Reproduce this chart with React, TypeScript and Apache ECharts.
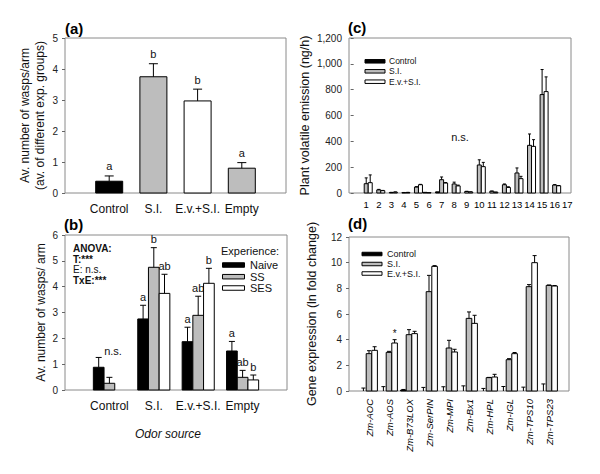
import React, { useEffect, useRef } from 'react';
import * as echarts from 'echarts';

const FONT = "'Liberation Sans', Arial, Helvetica, sans-serif";

// ---------- Panel (a) ----------
const odorSources = ['Control', 'S.I.', 'E.v.+S.I.', 'Empty'];
const aMeans = [0.38, 3.75, 2.97, 0.8];
const aSE = [0.17, 0.42, 0.38, 0.18];
const aLetters = ['a', 'b', 'b', 'a'];
const aColors = ['#000000', '#bdbdbd', '#ffffff', '#bdbdbd'];

// ---------- Panel (b) ----------
const experienceGroups = ['Naive', 'SS', 'SES'];
const bNaive = [0.88, 2.75, 1.87, 1.51];
const bNaiveSE = [0.38, 0.53, 0.56, 0.37];
const bSS = [0.26, 4.75, 2.89, 0.49];
const bSSSE = [0.23, 0.76, 0.74, 0.27];
const bSES = [0, 3.74, 4.13, 0.39];
const bSESSE = [0, 0.74, 0.58, 0.19];
const bNaiveLetters = ['', 'a', 'a', 'a'];
const bSSLetters = ['', 'b', 'ab', 'ab'];
const bSESLetters = ['', 'ab', 'b', 'b'];
const bControlNote = 'n.s.';
const anovaLines = ['ANOVA:', 'T:***', 'E: n.s.', 'TxE:***'];

// ---------- Panel (c) ----------
const compounds = ['1', '2', '3', '4', '5', '6', '7', '8', '9', '10', '11', '12', '13', '14', '15', '16', '17'];
const treatments = ['Control', 'S.I.', 'E.v.+S.I.'];
const cControl = [0, 0, 0, 0, 0, 5, 9, 0, 0, 0, 0, 0, 0, 0, 0, 0, 0];
const cControlSE = [0, 0, 0, 0, 0, 0, 0, 0, 0, 0, 0, 0, 0, 0, 0, 0, 0];
const cSI = [72, 24, 4, 3, 46, 3, 103, 70, 12, 217, 14, 64, 155, 369, 762, 62, 0];
const cSISE = [45, 4, 1, 1, 3, 0, 21, 14, 1, 40, 1, 6, 39, 88, 194, 3, 0];
const cEvSI = [80, 18, 7, 4, 64, 0, 77, 55, 8, 204, 6, 43, 111, 361, 785, 56, 0];
const cEvSISE = [60, 2, 1, 1, 3, 0, 4, 6, 1, 33, 1, 5, 18, 52, 114, 2, 0];
const cNote = 'n.s.';

// ---------- Panel (d) ----------
const genes = ['Zm-AOC', 'Zm-AOS', 'Zm-B73LOX', 'Zm-SerPIN', 'Zm-MPI', 'Zm-Bx1', 'Zm-HPL', 'Zm-IGL', 'Zm-TPS10', 'Zm-TPS23'];
const dControl = [0, 0, 0.07, 0, 0, 0, 0, 0, 0, 0];
const dControlSE = [0.23, 0.34, 0.05, 0.28, 0.33, 0.4, 0.2, 0.35, 0.3, 0.55];
const dSI = [2.91, 3.01, 4.39, 7.74, 3.35, 5.66, 1.04, 2.44, 8.13, 8.23];
const dSISE = [0.23, 0.08, 0.39, 1.27, 0.6, 0.5, 0.02, 0.08, 0.16, 0.03];
const dEvSI = [3.17, 3.74, 4.47, 9.71, 3.04, 5.27, 1.09, 2.91, 10.0, 8.18];
const dEvSISE = [0.28, 0.26, 0.18, 0.06, 0.21, 0.63, 0.21, 0.09, 0.55, 0.04];
const dEvSILetters = ['', '*', '', '', '', '', '', '', '', ''];

const BLACK = '#000000';
const GRAY = '#bdbdbd';
const WHITE = '#ffffff';

type BarOpts = {
  name: string;
  grid: number;
  means: number[];
  se: number[];
  colors: string | string[];
  offset: number;
  barWidth: number;
  capWidth: number;
  letters?: string[];
  fontSize?: number;
  labelGap?: number;
};

function barSeries(o: BarOpts) {
  return {
    type: 'custom',
    name: o.name,
    coordinateSystem: 'cartesian2d',
    xAxisIndex: o.grid,
    yAxisIndex: o.grid,
    encode: { x: 0, y: 1 },
    silent: true,
    data: o.means.map((m, i) => [i + 1, m, m + o.se[i]]),
    renderItem: (params: any, api: any) => {
      const i = params.dataIndex;
      const x = api.value(0);
      const v = api.value(1);
      const top = api.value(2);
      const p0 = api.coord([x, 0]);
      const p1 = api.coord([x, v]);
      const pe = api.coord([x, top]);
      const cx = p0[0] + o.offset * o.barWidth;
      const fill = Array.isArray(o.colors) ? o.colors[i] : o.colors;
      const children: any[] = [];
      if (v > 0) {
        children.push({
          type: 'rect',
          shape: { x: cx - o.barWidth / 2, y: p1[1], width: o.barWidth, height: p0[1] - p1[1] },
          style: { fill, stroke: '#000', lineWidth: 1 },
        });
      }
      if (top > v) {
        children.push({
          type: 'line',
          shape: { x1: cx, y1: p1[1], x2: cx, y2: pe[1] },
          style: { stroke: '#000', lineWidth: 1 },
        });
        children.push({
          type: 'line',
          shape: { x1: cx - o.capWidth / 2, y1: pe[1], x2: cx + o.capWidth / 2, y2: pe[1] },
          style: { stroke: '#000', lineWidth: 1 },
        });
      }
      const letter = o.letters ? o.letters[i] : '';
      if (letter) {
        children.push({
          type: 'text',
          x: cx,
          y: pe[1] - (o.labelGap ?? 3),
          style: {
            text: letter,
            fill: '#111',
            font: `${o.fontSize ?? 11}px ${FONT}`,
            align: 'center',
            verticalAlign: 'bottom',
          },
        });
      }
      return { type: 'group', children };
    },
  };
}

const gridBase = { show: true, borderColor: '#8a8a8a', borderWidth: 1, backgroundColor: 'transparent', containLabel: false };

function yAxis(grid: number, max: number, interval: number, name: string, nameGap: number, nameSize: number) {
  return {
    gridIndex: grid,
    type: 'value',
    min: 0,
    max,
    interval,
    name,
    nameLocation: 'middle',
    nameGap,
    nameTextStyle: { fontSize: nameSize, color: '#111', fontFamily: FONT, lineHeight: nameSize + 3 },
    axisLine: { show: false },
    axisTick: { show: true, inside: false, length: 3, lineStyle: { color: '#666' } },
    splitLine: { show: false },
    axisLabel: { fontSize: 10, color: '#222', fontFamily: FONT, margin: 7 },
  };
}

function xAxisVal(grid: number, min: number, max: number, values: number[], names: string[], extra: any) {
  return {
    gridIndex: grid,
    type: 'value',
    min,
    max,
    axisLine: { show: false },
    axisTick: { show: false },
    splitLine: { show: false },
    axisLabel: {
      customValues: values,
      formatter: (v: number) => names[Math.round(v) - 1] ?? '',
      fontFamily: FONT,
      color: '#111',
      ...extra,
    },
  };
}

function legendGraphics(x: number, textX: number, ys: number[], labels: string[], fills: string[], w: number, h: number, fontSize: number) {
  const els: any[] = [];
  ys.forEach((y, i) => {
    els.push({
      type: 'rect',
      shape: { x, y: y - h / 2, width: w, height: h },
      style: { fill: fills[i], stroke: '#000', lineWidth: 1 },
    });
    els.push({
      type: 'text',
      x: textX,
      y,
      style: { text: labels[i], font: `${fontSize}px ${FONT}`, fill: '#111', verticalAlign: 'middle', align: 'left' },
    });
  });
  return els;
}

export default function App() {
  const ref = useRef<HTMLDivElement>(null);
  useEffect(() => {
    if (!ref.current) return;
    const chart = echarts.init(ref.current, undefined, { renderer: 'svg' });
    const panelLabel = (t: string, x: number, y: number) => ({
      type: 'text',
      x,
      y,
      style: { text: t, font: `bold 15px ${FONT}`, fill: '#000', verticalAlign: 'middle' },
    });
    const option: any = {
      animation: false,
      backgroundColor: '#ffffff',
      textStyle: { fontFamily: FONT },
      grid: [
        { ...gridBase, left: 65, top: 38, width: 221, height: 155 },
        { ...gridBase, left: 65, top: 235, width: 222, height: 155 },
        { ...gridBase, left: 349, top: 38, width: 222, height: 155 },
        { ...gridBase, left: 349, top: 237, width: 220, height: 154 },
      ],
      xAxis: [
        xAxisVal(0, 0, 5, [1, 2, 3, 4], odorSources, { fontSize: 12, margin: 10 }),
        xAxisVal(1, 0, 5, [1, 2, 3, 4], odorSources, { fontSize: 12, margin: 10 }),
        xAxisVal(2, -0.37, 17.3, compounds.map((_, i) => i + 1), compounds, { fontSize: 9.5, margin: 6, color: '#000' }),
        xAxisVal(3, 0, 11, genes.map((_, i) => i + 1), genes, { fontSize: 9.5, margin: 8, rotate: 90, fontStyle: 'italic', color: '#000' }),
      ],
      yAxis: [
        yAxis(0, 5, 1, 'Av. number of wasps/arm\n(av. of different exp. groups)', 18, 12),
        yAxis(1, 6, 1, 'Av. number of wasps/ arm', 15, 12),
        yAxis(2, 1200, 200, 'Plant volatile emission (ng/h)', 31, 12.5),
        yAxis(3, 12, 2, 'Gene expression (ln fold change)', 29, 12.5),
      ],
      series: [
        barSeries({ name: 'a', grid: 0, means: aMeans, se: aSE, colors: aColors, offset: 0, barWidth: 27, capWidth: 9, letters: aLetters, fontSize: 11, labelGap: 4 }),
        barSeries({ name: experienceGroups[0], grid: 1, means: bNaive, se: bNaiveSE, colors: BLACK, offset: -1, barWidth: 10.7, capWidth: 6, letters: bNaiveLetters, fontSize: 11, labelGap: 3 }),
        barSeries({ name: experienceGroups[1], grid: 1, means: bSS, se: bSSSE, colors: GRAY, offset: 0, barWidth: 10.7, capWidth: 6, letters: bSSLetters, fontSize: 11, labelGap: 3 }),
        barSeries({ name: experienceGroups[2], grid: 1, means: bSES, se: bSESSE, colors: WHITE, offset: 1, barWidth: 10.7, capWidth: 6, letters: bSESLetters, fontSize: 11, labelGap: 3 }),
        barSeries({ name: treatments[0], grid: 2, means: cControl, se: cControlSE, colors: BLACK, offset: -1, barWidth: 4, capWidth: 3 }),
        barSeries({ name: treatments[1], grid: 2, means: cSI, se: cSISE, colors: GRAY, offset: 0, barWidth: 4, capWidth: 3 }),
        barSeries({ name: treatments[2], grid: 2, means: cEvSI, se: cEvSISE, colors: WHITE, offset: 1, barWidth: 4, capWidth: 3 }),
        barSeries({ name: treatments[0], grid: 3, means: dControl, se: dControlSE, colors: BLACK, offset: -1, barWidth: 5.6, capWidth: 4 }),
        barSeries({ name: treatments[1], grid: 3, means: dSI, se: dSISE, colors: GRAY, offset: 0, barWidth: 5.6, capWidth: 4 }),
        barSeries({ name: treatments[2], grid: 3, means: dEvSI, se: dEvSISE, colors: WHITE, offset: 1, barWidth: 5.6, capWidth: 4, letters: dEvSILetters, fontSize: 10, labelGap: 1 }),
      ],
      graphic: [
        panelLabel('(a)', 65, 28),
        panelLabel('(b)', 64, 224),
        panelLabel('(c)', 348, 27),
        panelLabel('(d)', 348, 223),
        // ANOVA text in (b)
        ...anovaLines.map((t, i) => ({
          type: 'text',
          x: 73,
          y: [248.5, 259, 269.5, 280][i],
          style: {
            text: t,
            font: `${i === 2 ? 'normal' : 'bold'} 10px ${FONT}`,
            lineHeight: 10,
            fill: '#111',
            verticalAlign: 'middle',
          },
        })),
        {
          type: 'text',
          x: 113,
          y: 351,
          style: { text: bControlNote, font: `11px ${FONT}`, fill: '#111', align: 'center', verticalAlign: 'middle' },
        },
        {
          type: 'text',
          x: 221,
          y: 251,
          style: { text: 'Experience:', font: `11px ${FONT}`, fill: '#111', verticalAlign: 'middle' },
        },
        ...legendGraphics(222.5, 250, [265, 276.7, 288], experienceGroups, [BLACK, GRAY, WHITE], 22, 4.5, 11),
        ...legendGraphics(365, 389, [61.3, 71.3, 81.7], treatments, [BLACK, GRAY, WHITE], 20, 3.5, 8.5),
        ...legendGraphics(362, 387, [254, 264, 273.5], treatments, [BLACK, GRAY, WHITE], 20, 3.5, 9),
        {
          type: 'text',
          x: 460,
          y: 137,
          style: { text: cNote, font: `11px ${FONT}`, fill: '#111', align: 'center', verticalAlign: 'middle' },
        },
        {
          type: 'text',
          x: 168,
          y: 434,
          style: { text: 'Odor source', font: `italic 12px ${FONT}`, fill: '#111', align: 'center', verticalAlign: 'middle' },
        },
      ],
    };
    chart.setOption(option);
    return () => chart.dispose();
  }, []);
  return <div ref={ref} style={{ width: 600, height: 474, position: 'absolute', left: 0, top: 0, background: '#fff' }} />;
}
